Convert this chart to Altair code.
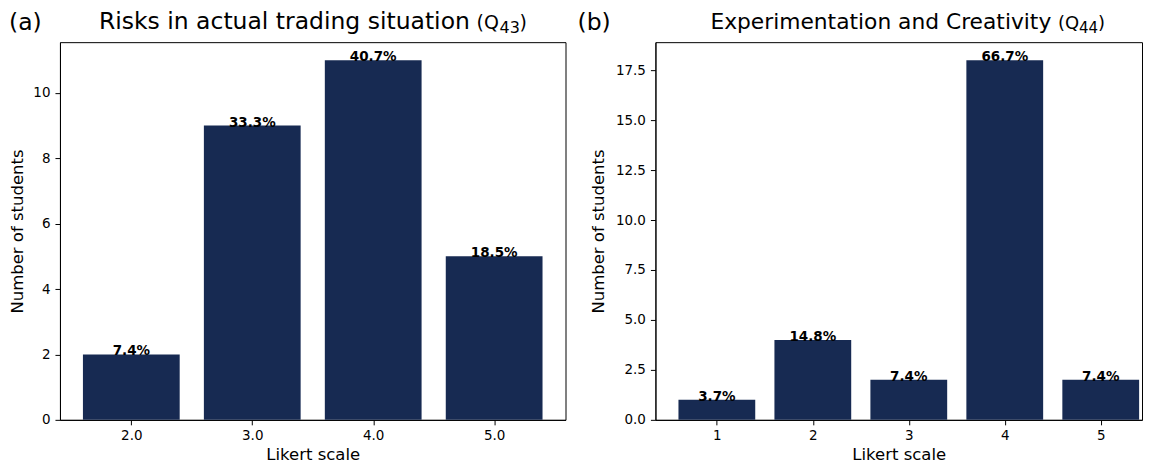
import altair as alt
import pandas as pd

# ---- data ----
a_levels = [2.0, 3.0, 4.0, 5.0]
a_counts = [2, 9, 11, 5]
a_labels = ["7.4%", "33.3%", "40.7%", "18.5%"]

b_levels = [1, 2, 3, 4, 5]
b_counts = [1, 4, 2, 18, 2]
b_labels = ["3.7%", "14.8%", "7.4%", "66.7%", "7.4%"]

a_yticks = [0, 2, 4, 6, 8, 10]
b_yticks = [0, 2.5, 5.0, 7.5, 10.0, 12.5, 15.0, 17.5]

BAR = "#172a52"
FONT = "DejaVu Sans"
H = 378


def one_text(txt, x, y, size, align="left", weight="normal"):
    return alt.Chart(alt.Data(values=[{"t": txt}])).mark_text(
        align=align, baseline="alphabetic", fontSize=size, font=FONT,
        fontWeight=weight, color="black"
    ).encode(x=alt.value(x), y=alt.value(y), text="t:N")


def panel(levels, counts, labels, xdom, ydom, yticks, xfmt, yfmt, w, ytp, titles):
    df = pd.DataFrame({"level": levels, "count": counts, "label": labels})
    base = alt.Chart(df).transform_calculate(
        x0="datum.level - 0.4", x1="datum.level + 0.4"
    )
    xscale = alt.Scale(domain=xdom, nice=False, zero=False)
    yscale = alt.Scale(domain=ydom, nice=False)
    bars = base.mark_rect(color=BAR).encode(
        x=alt.X("x0:Q", scale=xscale,
                axis=alt.Axis(values=levels, format=xfmt, title="Likert scale",
                              labelPadding=4, titlePadding=4)),
        x2="x1:Q",
        y=alt.Y("count:Q", scale=yscale,
                axis=alt.Axis(values=yticks, format=yfmt, title="Number of students",
                              labelPadding=5, titlePadding=ytp)),
        y2=alt.datum(0),
    )
    txt = base.mark_text(
        baseline="alphabetic", dy=1, fontSize=13.5, fontWeight="bold",
        font=FONT, color="black"
    ).encode(x=alt.X("level:Q", scale=xscale), y=alt.Y("count:Q", scale=yscale),
             text="label:N")
    layers = [bars, txt] + titles
    return alt.layer(*layers).properties(width=w, height=H)


left = panel(
    a_levels, a_counts, a_labels, [1.41, 5.59], [0, 11.55], a_yticks, ".1f", "d", 506, 7,
    [
        one_text("(a)", -51, -12, 23.5),
        one_text("Risks in actual trading situation", 39, -13, 23.5),
        one_text("(Q", 417, -13, 19),
        one_text("43", 440, -9, 16),
        one_text(")", 460, -13, 19),
    ],
)

right = panel(
    b_levels, b_counts, b_labels, [0.36, 5.43], [0, 18.9], b_yticks, "d", ".1f", 487, 9,
    [
        one_text("(b)", -78, -12, 23.5),
        one_text("Experimentation and Creativity", 55, -13, 21.8),
        one_text("(Q", 403, -13, 18),
        one_text("44", 424, -9, 15),
        one_text(")", 443, -13, 18),
    ],
)

chart = alt.hconcat(left, right, spacing=90, bounds="flush").properties(
    padding={"left": 0, "top": 1, "right": 0, "bottom": 0},
    background="white",
).configure_view(
    stroke="black", strokeWidth=1
).configure_axis(
    grid=False, domainColor="black", tickColor="black", tickSize=5,
    labelFontSize=13.5, titleFontSize=16.5, labelFont=FONT, titleFont=FONT,
    labelColor="black", titleColor="black", titleFontWeight="normal",
    domainWidth=1,
)

chart.save("out.html", embed_options={"renderer": "svg", "actions": False})
